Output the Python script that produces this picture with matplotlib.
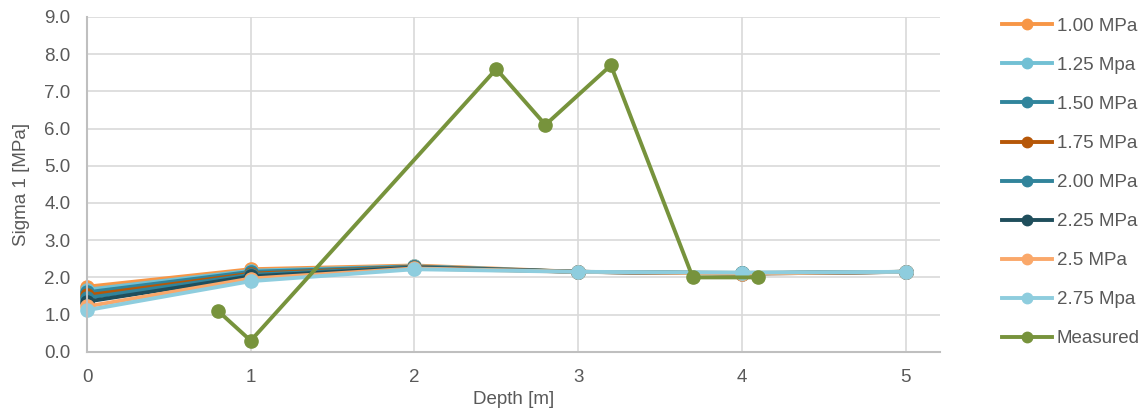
import matplotlib.pyplot as plt

plt.rcParams['font.family'] = ['Liberation Sans', 'DejaVu Sans']

# глубины и расчётные значения sigma 1 для разных давлений
depth = [0, 1, 2, 3, 4, 5]
s_100 = [1.75, 2.22, 2.32, 2.15, 2.12, 2.15]
s_125 = [1.67, 2.18, 2.30, 2.15, 2.12, 2.15]
s_150 = [1.60, 2.15, 2.29, 2.15, 2.11, 2.15]
s_175 = [1.52, 2.10, 2.28, 2.15, 2.11, 2.15]
s_200 = [1.45, 2.07, 2.27, 2.15, 2.11, 2.15]
s_225 = [1.35, 2.03, 2.26, 2.15, 2.10, 2.15]
s_250 = [1.22, 1.97, 2.24, 2.15, 2.10, 2.15]
s_275 = [1.12, 1.90, 2.22, 2.15, 2.13, 2.15]

# измеренные значения
depth_meas = [0.8, 1.0, 2.5, 2.8, 3.2, 3.7, 4.1]
s_meas = [1.1, 0.3, 7.6, 6.1, 7.7, 2.0, 2.0]

series = [
    (s_100, '1.00 MPa', '#F79646'),
    (s_125, '1.25 Mpa', '#72C0D4'),
    (s_150, '1.50 MPa', '#31859C'),
    (s_175, '1.75 MPa', '#B65708'),
    (s_200, '2.00 MPa', '#31849B'),
    (s_225, '2.25 MPa', '#1F4E5C'),
    (s_250, '2.5 MPa', '#FAA86A'),
    (s_275, '2.75 Mpa', '#8ECDDE'),
]

fs = 13.5
grey = '#595959'

fig = plt.figure(figsize=(11.48, 4.12), dpi=100)
ax = fig.add_axes([0.0758, 0.146, 0.743, 0.813])

for vals, lab, col in series:
    ax.plot(depth, vals, '-o', color=col, lw=2.8, ms=9.5, label=lab, clip_on=False)
ax.plot(depth_meas, s_meas, '-o', color='#77933C', lw=2.8, ms=9.5, label='Measured', clip_on=False)

ax.set_xlim(0, 5.21)
ax.set_ylim(0, 9)
ax.set_xticks(range(6))
ax.set_yticks([i * 1.0 for i in range(10)])
ax.set_yticklabels([f'{i:.1f}' for i in range(10)])
ax.grid(True, color='#D9D9D9', lw=1.2)
ax.set_axisbelow(True)
for s in ['top', 'right']:
    ax.spines[s].set_visible(False)
for s in ['left', 'bottom']:
    ax.spines[s].set_color('#BFBFBF')
    ax.spines[s].set_linewidth(1.5)
ax.tick_params(length=0, labelsize=fs, colors=grey)
ax.tick_params(axis='y', pad=12)
ax.tick_params(axis='x', pad=12)
ax.set_xlabel('Depth [m]', fontsize=fs, color=grey, labelpad=4)
ax.set_ylabel('Sigma 1 [MPa]', fontsize=fs, color=grey, labelpad=10)

leg = ax.legend(loc='upper left', bbox_to_anchor=(0.866, 0.975), bbox_transform=fig.transFigure,
                frameon=False, fontsize=fs, labelspacing=1.17, handlelength=2.67,
                handletextpad=0.27, borderaxespad=0)
for t in leg.get_texts():
    t.set_color(grey)
for h in leg.get_lines():
    h.set_markersize(7.5)

fig.savefig('out.png', dpi=100)
